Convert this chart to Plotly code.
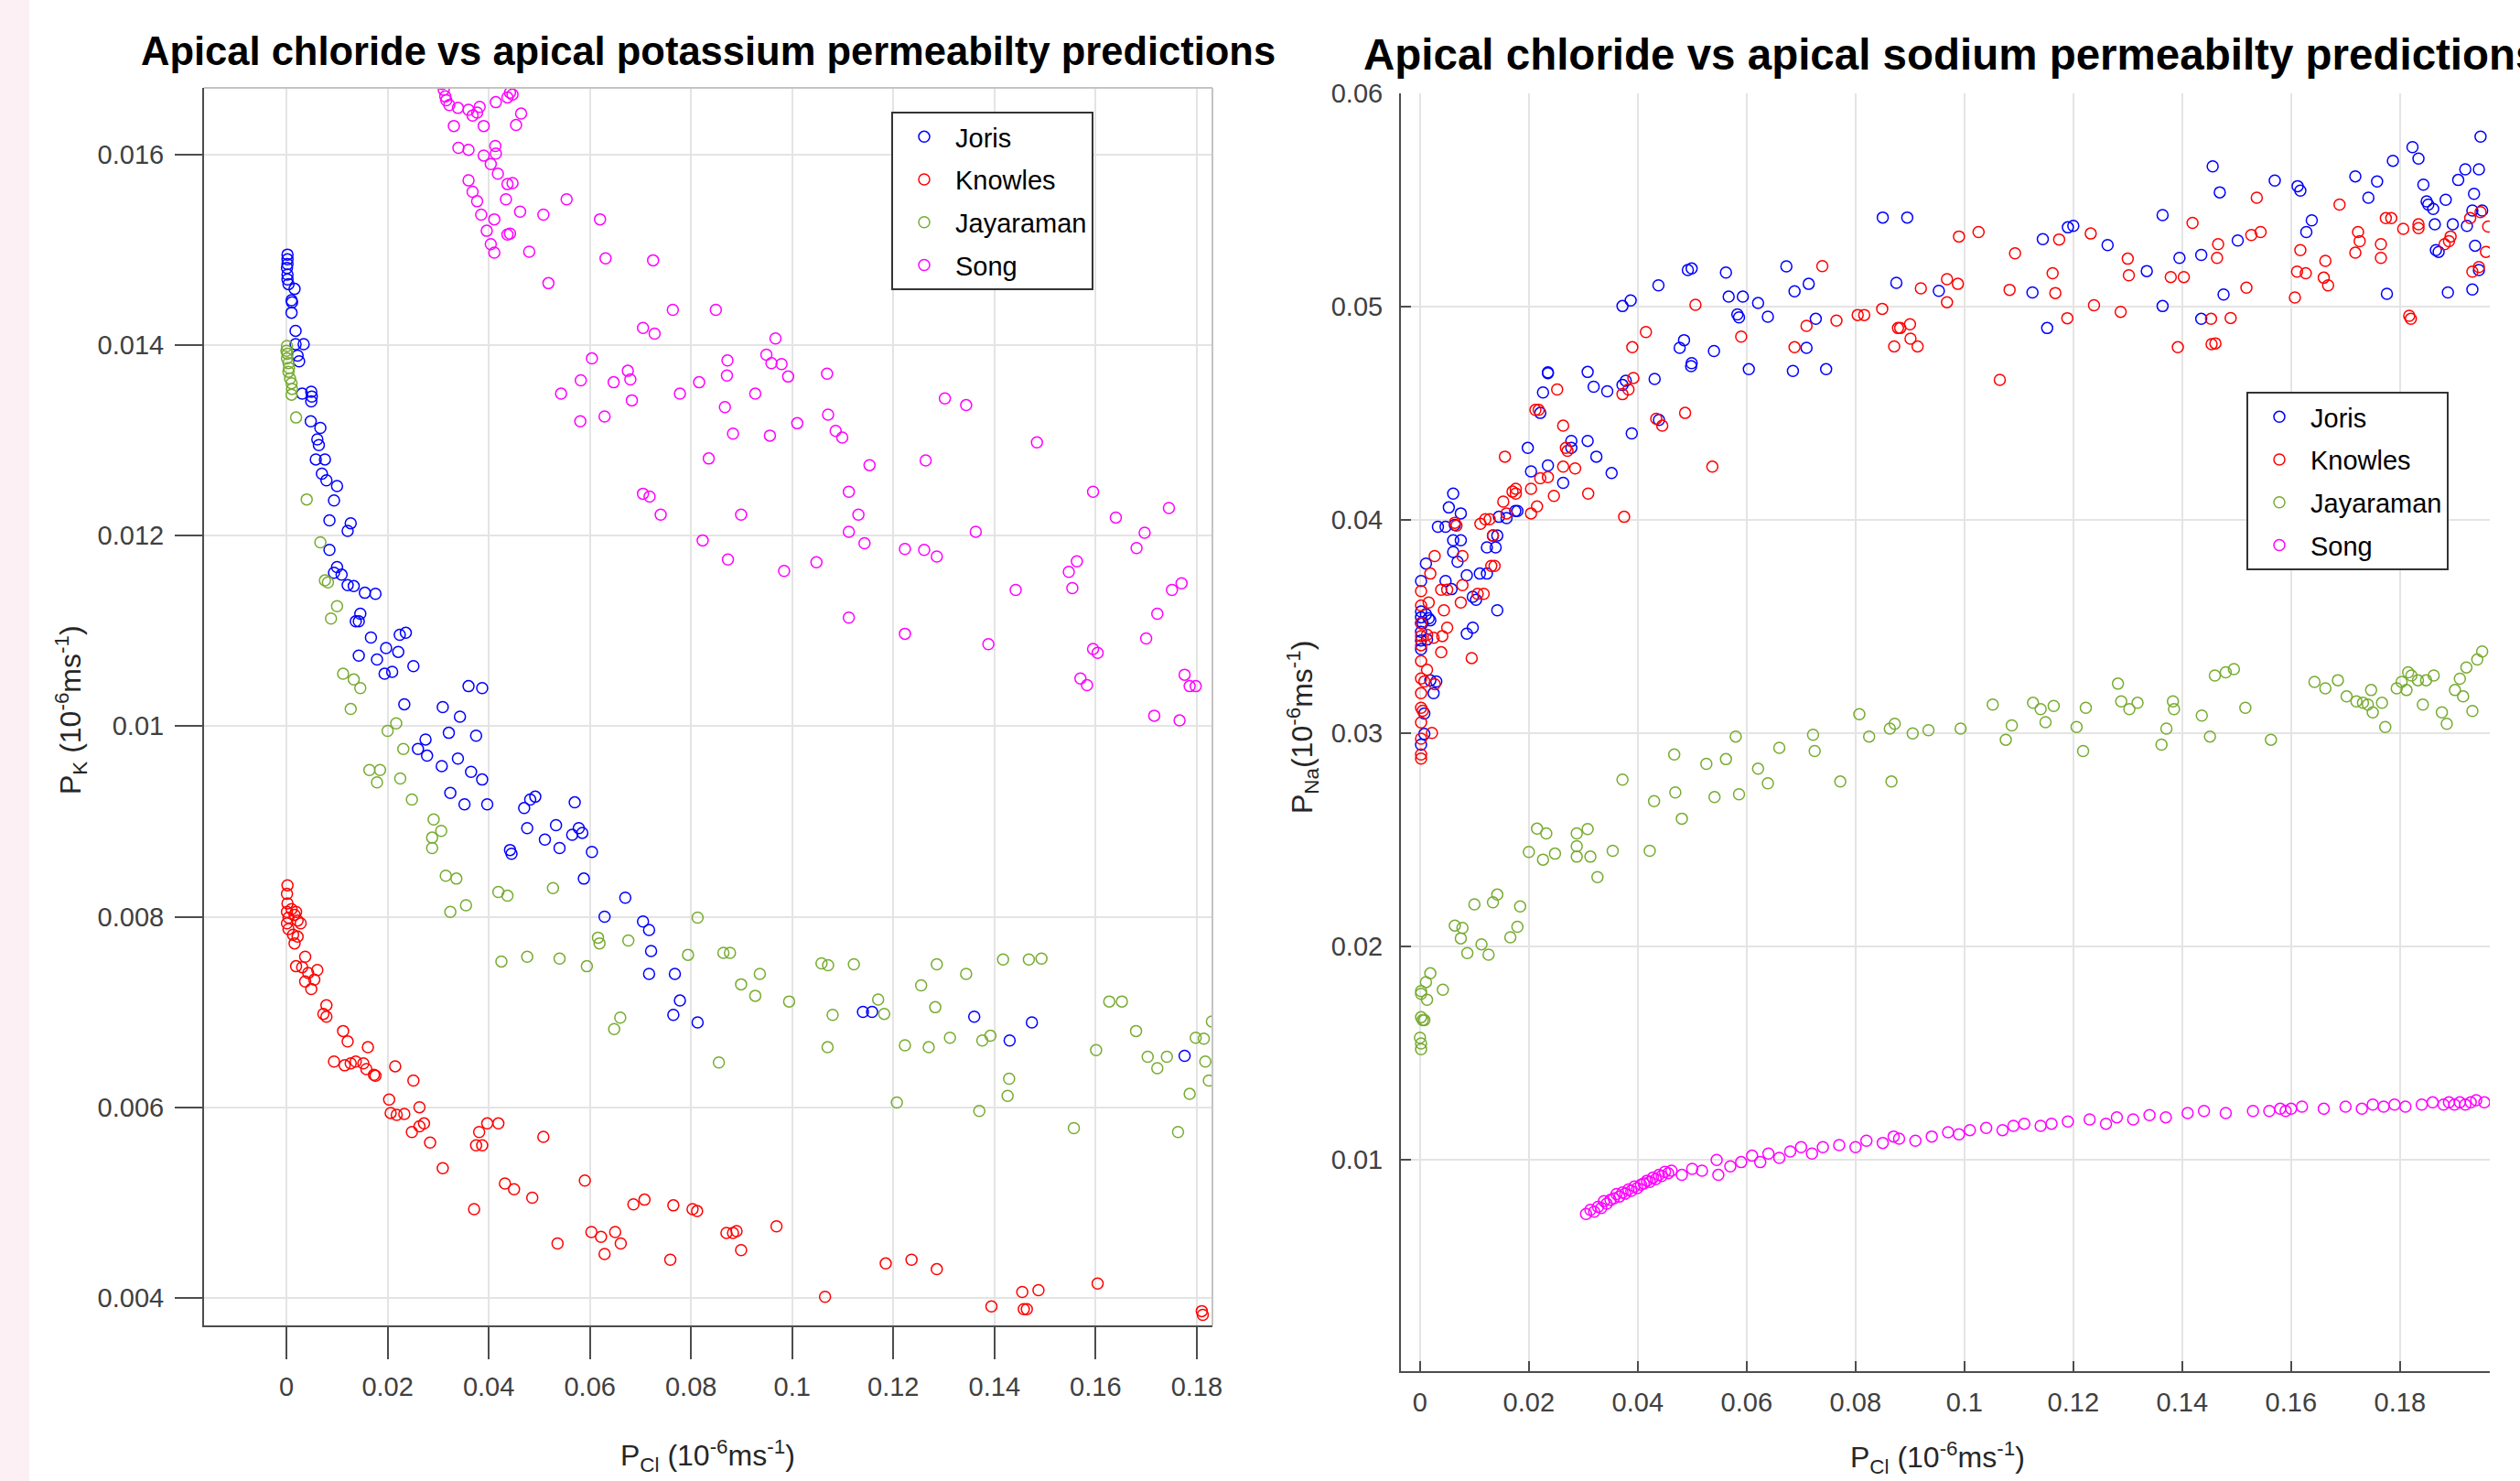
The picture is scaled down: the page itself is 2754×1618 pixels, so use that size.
import plotly.graph_objects as go

# ---------------- Data: left panel (P_Cl vs P_K) ----------------
k_joris = [
    (0.0002,0.01495),(0.0002,0.0149),(0.0002,0.01485),(0.0001,0.01481),(0.0002,0.01474),(0.0002,0.01469),
    (0.0004,0.01464),(0.0016,0.01459),(0.001,0.01447),(0.0011,0.01445),(0.001,0.01434),(0.0018,0.01415),
    (0.0018,0.01401),(0.0034,0.01401),(0.0022,0.01389),(0.0025,0.01383),(0.0031,0.01349),(0.0049,0.01351),
    (0.005,0.01346),(0.0049,0.01341),(0.0048,0.0132),(0.0067,0.01313),(0.0061,0.01301),(0.0064,0.01295),
    (0.0058,0.0128),(0.0076,0.0128),(0.007,0.01265),(0.0079,0.01258),(0.01,0.01252),(0.0094,0.01237),
    (0.0085,0.01216),(0.0127,0.01213),(0.0121,0.01205),(0.0085,0.01185),(0.01,0.01167),(0.0094,0.01161),
    (0.0109,0.01159),(0.0121,0.01148),(0.0133,0.01147),(0.0155,0.0114),(0.0176,0.01139),(0.0146,0.01118),
    (0.0137,0.0111),(0.0143,0.0111),(0.0167,0.01093),(0.0143,0.01074),(0.0179,0.0107),(0.0197,0.01082),
    (0.0221,0.01078),(0.0224,0.01096),(0.0236,0.01098),(0.0251,0.01063),(0.0194,0.01055),(0.0209,0.01057),
    (0.0233,0.01023),(0.0309,0.0102),(0.0275,0.00986),(0.026,0.00976),(0.0278,0.00969),(0.0321,0.00993),
    (0.0307,0.00958),(0.0324,0.0093),(0.0339,0.00966),(0.036,0.01042),(0.0387,0.0104),(0.0343,0.0101),
    (0.0375,0.0099),(0.0365,0.00952),(0.0387,0.00944),(0.0352,0.00918),(0.0397,0.00918),(0.0442,0.0087),
    (0.0445,0.00866),(0.0482,0.00923),(0.047,0.00914),(0.0492,0.00926),(0.0476,0.00893),(0.0511,0.00881),
    (0.0533,0.00896),(0.0565,0.00886),(0.0578,0.00893),(0.054,0.00872),(0.057,0.0092),(0.0585,0.00888),
    (0.0604,0.00868),(0.0588,0.0084),(0.0629,0.008),(0.067,0.0082),(0.0705,0.00795),(0.0717,0.00786),
    (0.0721,0.00764),(0.0717,0.0074),(0.0768,0.0074),(0.0765,0.00697),(0.0778,0.00712),(0.0813,0.00689),
    (0.114,0.007),(0.1158,0.007),(0.136,0.00695),(0.143,0.0067),(0.1474,0.00689),(0.1776,0.00654),
]
k_knowles = [
    (0.0002,0.00833),(0.0001,0.00824),(0.0002,0.00814),(0.0001,0.00805),(0.0004,0.00799),(0.0001,0.00793),
    (0.0004,0.00787),(0.001,0.00808),(0.0016,0.00802),(0.0019,0.00805),(0.0022,0.00796),(0.0028,0.00793),
    (0.0013,0.00781),(0.0016,0.00772),(0.0022,0.00779),(0.0019,0.00748),(0.0031,0.00747),(0.0037,0.00758),
    (0.0043,0.00741),(0.0061,0.00744),(0.0037,0.00732),(0.0055,0.00734),(0.0049,0.00724),(0.0079,0.00707),
    (0.0073,0.00698),(0.0079,0.00695),(0.0112,0.0068),(0.0121,0.00669),(0.0161,0.00663),(0.0094,0.00648),
    (0.0115,0.00644),(0.0127,0.00646),(0.0137,0.00648),(0.0152,0.00646),(0.0158,0.0064),(0.0176,0.00633),
    (0.0173,0.00634),(0.0215,0.00643),(0.0251,0.00628),(0.0203,0.00608),(0.0206,0.00594),(0.0218,0.00592),
    (0.0233,0.00593),(0.0263,0.006),(0.0248,0.00574),(0.0263,0.0058),(0.0272,0.00583),(0.0284,0.00563),
    (0.0309,0.00536),(0.0381,0.00574),(0.0397,0.00583),(0.0419,0.00583),(0.0375,0.0056),(0.0387,0.0056),
    (0.0371,0.00493),(0.0432,0.0052),(0.045,0.00514),(0.0486,0.00505),(0.0508,0.00569),(0.0536,0.00457),
    (0.059,0.00523),(0.0603,0.00469),(0.0622,0.00464),(0.0629,0.00446),(0.065,0.00469),(0.0661,0.00457),
    (0.0686,0.00498),(0.0708,0.00503),(0.0765,0.00497),(0.0759,0.0044),(0.0803,0.00493),(0.0812,0.00491),
    (0.087,0.00468),(0.0883,0.00468),(0.089,0.0047),(0.0899,0.0045),(0.0969,0.00475),(0.1065,0.00401),
    (0.1185,0.00436),(0.1236,0.0044),(0.1286,0.0043),(0.1394,0.00391),(0.1455,0.00406),(0.1458,0.00388),
    (0.1464,0.00388),(0.1487,0.00408),(0.1604,0.00415),(0.181,0.00386),(0.1812,0.00382),
]
k_jayaraman = [
    (0.0001,0.01399),(0.0,0.01394),(0.0002,0.01391),(0.0001,0.01386),(0.0004,0.01381),(0.0005,0.01376),
    (0.0004,0.01372),(0.0007,0.01365),(0.001,0.0136),(0.0011,0.01354),(0.001,0.01348),(0.0019,0.01324),
    (0.004,0.01238),(0.0067,0.01193),(0.0076,0.01153),(0.0082,0.01151),(0.01,0.01126),(0.0088,0.01113),
    (0.0112,0.01055),(0.0133,0.01049),(0.0146,0.0104),(0.0127,0.01018),(0.02,0.00995),(0.0217,0.01003),
    (0.0231,0.00976),(0.0164,0.00954),(0.0185,0.00954),(0.0179,0.00941),(0.0225,0.00945),(0.0248,0.00923),
    (0.0291,0.00902),(0.0288,0.00883),(0.0306,0.0089),(0.0288,0.00872),(0.0315,0.00843),(0.0324,0.00805),
    (0.0336,0.0084),(0.0355,0.00812),(0.0419,0.00826),(0.0425,0.00753),(0.0437,0.00822),(0.0476,0.00758),
    (0.0527,0.0083),(0.054,0.00756),(0.0594,0.00748),(0.0616,0.00778),(0.0619,0.00772),(0.066,0.00694),
    (0.0648,0.00682),(0.0676,0.00775),(0.0813,0.00799),(0.0794,0.0076),(0.0855,0.00647),(0.0864,0.00762),
    (0.0877,0.00762),(0.0899,0.00729),(0.0927,0.00717),(0.0936,0.0074),(0.0994,0.00711),(0.1058,0.00751),
    (0.1071,0.00749),(0.107,0.00663),(0.108,0.00697),(0.1122,0.0075),(0.117,0.00713),(0.1182,0.00698),
    (0.1207,0.00605),(0.1223,0.00665),(0.1255,0.00728),(0.127,0.00663),(0.1283,0.00705),(0.1286,0.0075),
    (0.1312,0.00673),(0.1344,0.0074),(0.137,0.00596),(0.1376,0.0067),(0.1392,0.00675),(0.1426,0.00612),
    (0.1429,0.0063),(0.1417,0.00755),(0.1468,0.00755),(0.1493,0.00756),(0.1557,0.00578),(0.1601,0.0066),
    (0.1627,0.00711),(0.1652,0.00711),(0.168,0.0068),(0.1703,0.00653),(0.1722,0.00641),(0.1741,0.00653),
    (0.1763,0.00574),(0.1786,0.00614),(0.1798,0.00673),(0.1814,0.00672),(0.1817,0.00648),(0.1824,0.00628),
    (0.183,0.0069),
]
k_song = [
    (0.0308,0.01674),(0.0311,0.01668),(0.0314,0.01661),(0.0316,0.01657),(0.0322,0.01652),(0.0339,0.01649),
    (0.036,0.01647),(0.0368,0.01641),(0.0382,0.0165),(0.0377,0.01644),(0.0331,0.0163),(0.039,0.0163),
    (0.0414,0.01655),(0.0437,0.0166),(0.0442,0.01665),(0.0447,0.01663),(0.0464,0.01643),(0.0454,0.01631),
    (0.034,0.01607),(0.036,0.01605),(0.039,0.01599),(0.0413,0.01609),(0.0414,0.01601),(0.0404,0.0159),
    (0.0418,0.0158),(0.036,0.01573),(0.0368,0.01561),(0.0377,0.01551),(0.0437,0.01569),(0.0447,0.0157),
    (0.0434,0.01553),(0.0462,0.0154),(0.0385,0.01537),(0.0411,0.01532),(0.0508,0.01537),(0.0554,0.01553),
    (0.062,0.01532),(0.0396,0.0152),(0.0437,0.01516),(0.0442,0.01517),(0.0404,0.01506),(0.0411,0.01497),
    (0.048,0.01498),(0.0631,0.01491),(0.0725,0.01489),(0.0518,0.01465),(0.0764,0.01437),(0.0849,0.01437),
    (0.0705,0.01418),(0.0728,0.01412),(0.0967,0.01407),(0.0604,0.01386),(0.0949,0.0139),(0.0959,0.01381),
    (0.0872,0.01384),(0.0979,0.0138),(0.0992,0.01367),(0.1069,0.0137),(0.0675,0.01373),(0.068,0.01364),
    (0.0582,0.01363),(0.0647,0.01361),(0.0816,0.01361),(0.0871,0.01368),(0.0543,0.01349),(0.0581,0.0132),
    (0.0629,0.01325),(0.0683,0.01342),(0.0705,0.01244),(0.0718,0.01241),(0.074,0.01222),(0.0778,0.01349),
    (0.0823,0.01195),(0.0835,0.01281),(0.0867,0.01335),(0.0873,0.01175),(0.0883,0.01307),(0.0899,0.01222),
    (0.0927,0.01349),(0.0956,0.01305),(0.0984,0.01163),(0.101,0.01318),(0.1048,0.01172),(0.1071,0.01327),
    (0.1086,0.0131),(0.1099,0.01303),(0.1112,0.01246),(0.1112,0.01204),(0.1112,0.01114),(0.1131,0.01222),
    (0.1143,0.01192),(0.1153,0.01274),(0.1223,0.01186),(0.1223,0.01097),(0.1261,0.01185),(0.1264,0.01279),
    (0.1286,0.01178),(0.1302,0.01344),(0.1344,0.01337),(0.1363,0.01204),(0.1388,0.01086),(0.1442,0.01143),
    (0.1484,0.01298),(0.1547,0.01162),(0.1554,0.01145),(0.1563,0.01173),(0.1595,0.01246),(0.1595,0.01081),
    (0.1604,0.01077),(0.157,0.0105),(0.1583,0.01043),(0.164,0.01219),(0.1681,0.01187),(0.1697,0.01203),
    (0.17,0.01092),(0.1716,0.01011),(0.1722,0.01118),(0.1745,0.01229),(0.1751,0.01143),(0.177,0.0115),
    (0.1766,0.01006),(0.1776,0.01054),(0.1786,0.01042),(0.1798,0.01042),
]

# ---------------- Data: right panel (P_Cl vs P_Na) ----------------
na_joris = [
    (0.0002,0.03714),(0.0002,0.03571),(0.0002,0.03544),(0.0002,0.03517),(0.0002,0.03476),(0.0002,0.03435),
    (0.0002,0.03394),(0.0005,0.03517),(0.0011,0.03558),(0.0016,0.03539),(0.0019,0.0353),(0.0013,0.0344),
    (0.0008,0.03093),(0.0002,0.02947),(0.0008,0.02997),(0.0011,0.03796),(0.0019,0.03248),(0.0025,0.03188),
    (0.003,0.03243),(0.0033,0.03968),(0.0047,0.03968),(0.0053,0.04059),(0.0061,0.04124),(0.0075,0.04031),
    (0.0047,0.03714),(0.0058,0.03676),(0.0061,0.03905),(0.0064,0.03977),(0.0075,0.03905),(0.0061,0.0385),
    (0.0069,0.03804),(0.0086,0.03741),(0.0086,0.03467),(0.0097,0.03495),(0.0097,0.0364),(0.0103,0.03626),
    (0.011,0.03749),(0.0123,0.03749),(0.0123,0.03872),(0.0139,0.03872),(0.0134,0.03927),(0.0142,0.03927),
    (0.0145,0.04015),(0.0142,0.03577),(0.0159,0.04009),(0.0175,0.04042),(0.0179,0.04042),(0.0198,0.04338),
    (0.0204,0.04228),(0.0221,0.04502),(0.0226,0.04598),(0.0235,0.04256),(0.0235,0.04688),(0.0263,0.04174),
    (0.0278,0.04338),(0.0278,0.04371),(0.0308,0.04371),(0.0324,0.04297),(0.0352,0.0422),(0.0389,0.04406),
    (0.0439,0.04469),(0.0431,0.04661),(0.0378,0.04653),(0.0308,0.04694),(0.0319,0.04625),(0.0344,0.04603),
    (0.0372,0.04633),(0.0498,0.04721),(0.0235,0.04692),(0.0372,0.05003),(0.0387,0.05029),(0.0438,0.051),
    (0.0492,0.05172),(0.0499,0.05179),(0.0562,0.0516),(0.0567,0.05047),(0.0593,0.05047),(0.0583,0.04964),
    (0.0586,0.0495),(0.0621,0.05017),(0.0639,0.04953),(0.0673,0.05189),(0.0688,0.05072),(0.0714,0.05107),
    (0.0727,0.04943),(0.0477,0.04807),(0.0485,0.04843),(0.0499,0.04735),(0.054,0.04792),(0.0604,0.04707),
    (0.0685,0.04699),(0.0746,0.04707),(0.071,0.04807),(0.085,0.05418),(0.0895,0.05418),(0.0875,0.05112),
    (0.0953,0.05074),(0.1125,0.05067),(0.1144,0.05317),(0.119,0.05372),(0.12,0.05379),(0.1263,0.05289),
    (0.1152,0.049),(0.1335,0.05167),(0.1364,0.05429),(0.1364,0.05003),(0.1395,0.05229),(0.1435,0.05243),
    (0.1435,0.04943),(0.1456,0.05658),(0.1469,0.05536),(0.1476,0.05057),(0.1502,0.0531),(0.157,0.05591),
    (0.1612,0.05565),(0.1617,0.05544),(0.1628,0.0535),(0.1638,0.05405),(0.1718,0.05611),(0.1742,0.05511),
    (0.1758,0.05587),(0.1776,0.0506),(0.1787,0.05684),(0.1823,0.05748),(0.1834,0.05694),(0.1843,0.05572),
    (0.1849,0.05494),(0.1852,0.05479),(0.1861,0.05458),(0.1866,0.05265),(0.1871,0.05257),(0.1884,0.05501),
    (0.1864,0.05386),(0.1888,0.05067),(0.1897,0.05386),(0.1907,0.05594),(0.192,0.05644),(0.1923,0.05379),
    (0.1933,0.05451),(0.1933,0.05081),(0.1936,0.05529),(0.1938,0.05286),(0.1945,0.05644),(0.1948,0.05797),
    (0.1945,0.05172),(0.1951,0.05451),
]
na_knowles = [
    (0.0002,0.02901),(0.0002,0.02882),(0.0002,0.02975),(0.0002,0.03051),(0.0002,0.0312),(0.0002,0.03188),
    (0.0002,0.03257),(0.0002,0.03339),(0.0002,0.03413),(0.0002,0.03456),(0.0002,0.03517),(0.0002,0.03599),
    (0.0002,0.03667),(0.0005,0.03106),(0.0008,0.03243),(0.0013,0.03298),(0.0013,0.03462),(0.0016,0.03613),
    (0.0019,0.03749),(0.0022,0.03002),(0.0027,0.03831),(0.0027,0.0323),(0.0025,0.03448),(0.0039,0.0338),
    (0.0039,0.03673),(0.0041,0.03456),(0.0044,0.03577),(0.005,0.03495),(0.005,0.03673),(0.0064,0.03987),
    (0.0067,0.03974),(0.0075,0.03613),(0.0078,0.03831),(0.0078,0.03695),(0.0095,0.03353),(0.0106,0.03654),
    (0.0111,0.03982),(0.0117,0.03654),(0.012,0.04004),(0.0128,0.04004),(0.0131,0.03785),(0.0134,0.03927),
    (0.0137,0.03785),(0.0153,0.04086),(0.0156,0.04297),(0.0159,0.04031),(0.017,0.04133),(0.0176,0.04146),
    (0.0176,0.04124),(0.0204,0.04031),(0.0204,0.04146),(0.0215,0.04064),(0.0212,0.04516),(0.0218,0.04516),
    (0.0221,0.04196),(0.0235,0.04201),(0.0246,0.04113),(0.0252,0.04612),(0.0263,0.04442),(0.0263,0.0425),
    (0.0268,0.04338),(0.0271,0.04324),(0.0285,0.04242),(0.0309,0.04124),(0.0375,0.04015),(0.0372,0.0459),
    (0.0383,0.04612),(0.0392,0.04666),(0.0434,0.04475),(0.0445,0.04442),(0.0487,0.04502),(0.0537,0.0425),
    (0.039,0.0481),(0.0415,0.04881),(0.0506,0.05009),(0.059,0.0486),(0.0688,0.0481),(0.071,0.0491),
    (0.0739,0.0519),(0.0765,0.04935),(0.0804,0.04961),(0.0816,0.04961),(0.0849,0.0499),(0.0871,0.04814),
    (0.0878,0.049),(0.0882,0.049),(0.09,0.04918),(0.0901,0.0485),(0.0914,0.04814),(0.092,0.05086),
    (0.0968,0.05021),(0.0968,0.05129),(0.0988,0.05107),(0.099,0.05329),(0.1026,0.0535),(0.1065,0.04657),
    (0.1083,0.05079),(0.1093,0.0525),(0.1162,0.05157),(0.1167,0.05064),(0.1174,0.05315),(0.1189,0.04946),
    (0.1232,0.05343),(0.1238,0.05007),(0.1287,0.04976),(0.13,0.05225),(0.1302,0.05147),(0.1379,0.05139),
    (0.1392,0.0481),(0.1403,0.05139),(0.1419,0.05393),(0.1453,0.04943),(0.1454,0.04824),(0.1461,0.04828),
    (0.1464,0.05229),(0.1466,0.05293),(0.1489,0.04947),(0.1518,0.05089),(0.1527,0.05336),(0.1544,0.0535),
    (0.1537,0.05511),(0.1607,0.05043),(0.1611,0.05164),(0.1617,0.05265),(0.1627,0.05157),(0.166,0.05136),
    (0.1663,0.05215),(0.1668,0.051),(0.1689,0.05479),(0.1718,0.05253),(0.1723,0.0535),(0.1726,0.05307),
    (0.1765,0.05229),(0.1765,0.05293),(0.1774,0.05415),(0.1784,0.05415),(0.1806,0.05365),(0.1817,0.04957),
    (0.182,0.04943),(0.1834,0.05386),(0.1834,0.05368),(0.1882,0.05293),(0.1893,0.05329),(0.189,0.05307),
    (0.1929,0.05415),(0.1933,0.05164),(0.1948,0.05443),(0.1945,0.05186),(0.1958,0.05257),(0.1962,0.05376),
]
na_jayaraman = [
    (0.0002,0.01519),(0.0002,0.01546),(0.0,0.01573),(0.0005,0.01656),(0.0002,0.01669),(0.0008,0.01656),
    (0.0002,0.01779),(0.0013,0.01751),(0.0011,0.01834),(0.0019,0.01875),(0.0002,0.01792),(0.0042,0.01798),
    (0.0064,0.02099),(0.0078,0.02088),(0.0075,0.02039),(0.0087,0.0197),(0.0113,0.02011),(0.0126,0.01962),
    (0.01,0.02198),(0.0134,0.02208),(0.0142,0.02244),(0.0166,0.02044),(0.0179,0.02093),(0.0184,0.02189),
    (0.02,0.02444),(0.0215,0.02553),(0.0226,0.02408),(0.0232,0.02531),(0.0248,0.02436),(0.0288,0.02531),
    (0.0308,0.02551),(0.0288,0.02471),(0.0288,0.02422),(0.0313,0.02422),(0.0326,0.02326),(0.0354,0.02449),
    (0.0372,0.02783),(0.0422,0.02449),(0.043,0.02682),(0.0467,0.02901),(0.0469,0.02723),(0.0481,0.026),
    (0.0526,0.02857),(0.0541,0.02701),(0.0562,0.02879),(0.058,0.02985),(0.0586,0.02714),(0.0621,0.02834),
    (0.066,0.02932),(0.0639,0.02766),(0.0722,0.02993),(0.0725,0.02917),(0.0772,0.02774),(0.0807,0.0309),
    (0.0825,0.02985),(0.0863,0.03022),(0.0866,0.02774),(0.0872,0.03045),(0.0905,0.03),(0.0934,0.03015),
    (0.0993,0.03022),(0.1052,0.03135),(0.1076,0.0297),(0.1087,0.03037),(0.1126,0.03143),(0.114,0.03113),
    (0.1149,0.03052),(0.1164,0.03128),(0.1206,0.0303),(0.1218,0.02917),(0.1223,0.0312),(0.1282,0.03233),
    (0.1288,0.0315),(0.1303,0.03113),(0.1318,0.03143),(0.1362,0.02947),(0.1371,0.03022),(0.1383,0.0315),
    (0.1385,0.03113),(0.1436,0.03083),(0.1451,0.02985),(0.146,0.03271),(0.148,0.03286),(0.1495,0.03301),
    (0.1516,0.0312),(0.1563,0.0297),(0.1643,0.03241),(0.1663,0.03211),(0.1686,0.03249),(0.1702,0.03173),
    (0.172,0.0315),(0.1732,0.03143),(0.1741,0.03135),(0.1747,0.03203),(0.175,0.03098),(0.1767,0.03143),
    (0.1773,0.0303),(0.1794,0.03211),(0.1803,0.03241),(0.1815,0.03286),(0.1812,0.03203),(0.1821,0.03271),
    (0.1833,0.03249),(0.1842,0.03135),(0.1848,0.03249),(0.1862,0.03271),(0.1877,0.03098),(0.1886,0.03045),
    (0.1901,0.03203),(0.191,0.03256),(0.1916,0.03173),(0.1922,0.03309),(0.1933,0.03105),(0.1942,0.03346),
    (0.1951,0.03384),
]
na_song = [
    (0.0305,0.00747),(0.0313,0.00766),(0.032,0.00758),(0.0327,0.0078),(0.0333,0.00775),(0.0338,0.00807),
    (0.0343,0.00795),(0.035,0.00813),(0.0356,0.0082),(0.0361,0.0084),(0.0366,0.00828),(0.0372,0.00848),
    (0.0377,0.00842),(0.0383,0.00862),(0.0388,0.00855),(0.0394,0.00876),(0.0399,0.00868),(0.0406,0.00884),
    (0.0411,0.0089),(0.0417,0.00903),(0.0422,0.00897),(0.0428,0.00917),(0.0433,0.0091),(0.0439,0.0093),
    (0.0444,0.00925),(0.045,0.00944),(0.0456,0.00938),(0.0462,0.0095),(0.0481,0.0093),(0.05,0.00958),
    (0.0518,0.0095),(0.0545,0.01),(0.0548,0.0093),(0.057,0.0097),(0.059,0.0099),(0.061,0.0102),
    (0.0625,0.0099),(0.064,0.0103),(0.066,0.0101),(0.068,0.0104),(0.07,0.0106),(0.072,0.0103),
    (0.074,0.0106),(0.077,0.0107),(0.08,0.0106),(0.082,0.0109),(0.085,0.0108),(0.087,0.0111),
    (0.088,0.011),(0.091,0.0109),(0.094,0.0111),(0.097,0.0113),(0.099,0.0112),(0.101,0.0114),
    (0.104,0.0115),(0.107,0.0114),(0.109,0.0116),(0.111,0.0117),(0.114,0.0116),(0.116,0.0117),
    (0.119,0.0118),(0.123,0.0119),(0.126,0.0117),(0.128,0.012),(0.131,0.0119),(0.134,0.0121),
    (0.137,0.012),(0.141,0.0122),(0.144,0.0123),(0.148,0.0122),(0.153,0.0123),(0.156,0.0123),
    (0.158,0.0124),(0.159,0.0123),(0.16,0.0124),(0.162,0.0125),(0.166,0.0124),(0.17,0.0125),
    (0.173,0.0124),(0.175,0.0126),(0.177,0.0125),(0.179,0.0126),(0.181,0.0125),(0.184,0.0126),
    (0.186,0.0127),(0.188,0.0126),(0.189,0.0127),(0.19,0.0126),(0.191,0.0127),(0.192,0.0126),
    (0.193,0.0127),(0.194,0.0128),(0.1955,0.0127),
]

series_names = ["Joris", "Knowles", "Jayaraman", "Song"]
series_colors = ["#0000FF", "#FF0000", "#77AC30", "#FF00FF"]
x_ticks = [0, 0.02, 0.04, 0.06, 0.08, 0.1, 0.12, 0.14, 0.16, 0.18]
x_tick_labels = ["0", "0.02", "0.04", "0.06", "0.08", "0.1", "0.12", "0.14", "0.16", "0.18"]
k_ticks = [0.004, 0.006, 0.008, 0.01, 0.012, 0.014, 0.016]
k_tick_labels = ["0.004", "0.006", "0.008", "0.01", "0.012", "0.014", "0.016"]
na_ticks = [0.01, 0.02, 0.03, 0.04, 0.05, 0.06]
na_tick_labels = ["0.01", "0.02", "0.03", "0.04", "0.05", "0.06"]

FONT = "Liberation Sans, Arial, Helvetica, sans-serif"
W, H = 2754, 1618

fig = go.Figure()
left_sets = [k_joris, k_knowles, k_jayaraman, k_song]
right_sets = [na_joris, na_knowles, na_jayaraman, na_song]
for name, col, pts in zip(series_names, series_colors, left_sets):
    fig.add_trace(go.Scatter(
        x=[p[0] for p in pts], y=[p[1] for p in pts], mode="markers", name=name,
        legendgroup="L_" + name,
        marker=dict(symbol="circle-open", size=12, color=col, line=dict(width=1.5, color=col)),
        xaxis="x", yaxis="y", legend="legend", cliponaxis=True))
for name, col, pts in zip(series_names, series_colors, right_sets):
    fig.add_trace(go.Scatter(
        x=[p[0] for p in pts], y=[p[1] for p in pts], mode="markers", name=name,
        legendgroup="R_" + name,
        marker=dict(symbol="circle-open", size=12, color=col, line=dict(width=1.5, color=col)),
        xaxis="x2", yaxis="y2", legend="legend2", cliponaxis=True))

def px(v):
    return v / W

def py(v):
    return 1 - v / H

L_X = [px(223), px(1325)]
L_Y = [py(1448), py(96)]
R_X = [px(1531), px(2721)]
R_Y = [py(1498), py(102)]

tickfont = dict(family=FONT, size=29, color="#404040")
axcol = "#4d4d4d"
gridcol = "#e4e4e4"

common = dict(tickwidth=2, tickcolor=axcol, showline=True, linecolor=axcol, linewidth=2,
              showgrid=True, gridcolor=gridcol, gridwidth=1.5, zeroline=False,
              tickfont=tickfont, automargin=False)

legend_font = dict(family=FONT, size=29, color="black")
fig.update_layout(
    width=W, height=H, margin=dict(l=0, r=0, t=0, b=0, pad=0, autoexpand=False),
    paper_bgcolor="white", plot_bgcolor="white",
    xaxis=dict(domain=L_X, range=[-0.0163, 0.1831], tickvals=x_ticks, ticktext=x_tick_labels,
               ticks="outside", ticklen=35, anchor="y", ticklabelstandoff=5, **common),
    yaxis=dict(domain=L_Y, range=[0.00371, 0.0167], tickvals=k_ticks, ticktext=k_tick_labels,
               ticks="outside", ticklen=30, anchor="x", ticklabelstandoff=6, **common),
    xaxis2=dict(domain=R_X, range=[-0.0035, 0.1965], tickvals=x_ticks, ticktext=x_tick_labels,
                ticks="inside", ticklen=11, anchor="y2", ticklabelstandoff=7, **common),
    yaxis2=dict(domain=R_Y, range=[0.0001, 0.06], tickvals=na_ticks, ticktext=na_tick_labels,
                ticks="inside", ticklen=11, anchor="x2", ticklabelstandoff=12, **common),
    legend=dict(x=px(974), y=py(122), xanchor="left", yanchor="top", bgcolor="white",
                bordercolor="#333333", borderwidth=2, tracegroupgap=6, itemwidth=58,
                font=legend_font),
    legend2=dict(x=px(2455), y=py(428), xanchor="left", yanchor="top", bgcolor="white",
                 bordercolor="#333333", borderwidth=2, tracegroupgap=6, itemwidth=58,
                 font=legend_font),
    showlegend=True,
)

shapes = [
    dict(type="rect", xref="paper", yref="paper", x0=0, x1=px(32), y0=0, y1=1,
         fillcolor="#fcf0f4", line=dict(width=0), layer="below"),
    dict(type="line", xref="paper", yref="paper", x0=L_X[0], x1=L_X[1], y0=L_Y[1], y1=L_Y[1],
         line=dict(color="#c4c4c4", width=2)),
    dict(type="line", xref="paper", yref="paper", x0=L_X[1], x1=L_X[1], y0=L_Y[0], y1=L_Y[1],
         line=dict(color="#c4c4c4", width=2)),
]
fig.update_layout(shapes=shapes)

axis_title_font = dict(family=FONT, size=32, color="#262626")
ann = [
    dict(text="<b>Apical chloride vs apical potassium permeabilty predictions</b>", x=px(774), y=py(56),
         xref="paper", yref="paper", xanchor="center", yanchor="middle", showarrow=False,
         font=dict(family=FONT, size=43.5, color="black")),
    dict(text="<b>Apical chloride vs apical sodium permeabilty predictions</b>", x=px(1488), y=py(60),
         xref="paper", yref="paper", xanchor="left", yanchor="middle", showarrow=False,
         font=dict(family=FONT, size=47.5, color="black")),
    dict(text="P<sub>Cl</sub> (10<sup>-6</sup>ms<sup>-1</sup>)", x=px(773), y=py(1590),
         xref="paper", yref="paper", xanchor="center", yanchor="middle", showarrow=False, font=axis_title_font),
    dict(text="P<sub>Cl</sub> (10<sup>-6</sup>ms<sup>-1</sup>)", x=px(2117), y=py(1592),
         xref="paper", yref="paper", xanchor="center", yanchor="middle", showarrow=False, font=axis_title_font),
    dict(text="P<sub>K</sub> (10<sup>-6</sup>ms<sup>-1</sup>)", x=px(77), y=py(776), textangle=-90,
         xref="paper", yref="paper", xanchor="center", yanchor="middle", showarrow=False, font=axis_title_font),
    dict(text="P<sub>Na</sub>(10<sup>-6</sup>ms<sup>-1</sup>)", x=px(1423), y=py(795), textangle=-90,
         xref="paper", yref="paper", xanchor="center", yanchor="middle", showarrow=False, font=axis_title_font),
]
fig.update_layout(annotations=ann)

fig.write_html("out.html",
               config={"displayModeBar": False},
               post_script="document.body.style.margin='0px';document.body.style.overflow='hidden';")
